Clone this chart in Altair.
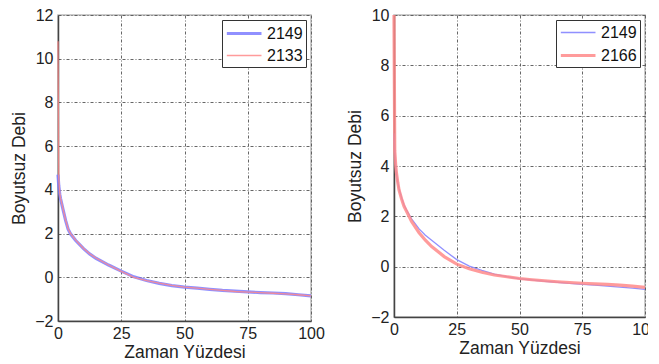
import altair as alt
import pandas as pd

x_pct = [0, 0.3, 0.7, 1, 1.5, 2, 3, 4, 5, 7, 10, 12.5, 15, 20, 25, 30, 35, 40, 45, 50,
         55, 60, 65, 70, 75, 80, 85, 90, 95, 100]

left_2149 = [4.7, 4.2, 3.8, 3.6, 3.35, 3.1, 2.6, 2.2, 1.98, 1.68, 1.32, 1.07, 0.87, 0.56, 0.28, 0.02,
             -0.15, -0.28, -0.38, -0.45, -0.5, -0.55, -0.6, -0.63, -0.67, -0.7, -0.72, -0.75, -0.8, -0.85]
left_2133 = [10.8, 4.5, 3.85, 3.62, 3.38, 3.12, 2.62, 2.22, 2.0, 1.7, 1.33, 1.08, 0.88, 0.56, 0.27, 0.0,
             -0.15, -0.27, -0.37, -0.45, -0.5, -0.55, -0.6, -0.65, -0.68, -0.7, -0.73, -0.76, -0.8, -0.85]

right_2149 = [5.3, 4.5, 4.0, 3.7, 3.35, 3.1, 2.75, 2.45, 2.25, 1.9, 1.5, 1.25, 1.05, 0.65, 0.28, 0.02,
              -0.15, -0.3, -0.4, -0.48, -0.53, -0.58, -0.62, -0.66, -0.7, -0.73, -0.77, -0.81, -0.85, -0.9]
right_2166 = [10.0, 4.6, 4.0, 3.7, 3.35, 3.05, 2.7, 2.4, 2.2, 1.8, 1.35, 1.05, 0.8, 0.4, 0.1, -0.08,
              -0.22, -0.33, -0.4, -0.47, -0.52, -0.56, -0.6, -0.63, -0.66, -0.68, -0.7, -0.73, -0.77, -0.82]

left_series = ["2149", "2133"]
right_series = ["2149", "2166"]

BLUE = "#7d7dff"
RED = "#ff8a8a"
FONT = "Liberation Sans"


def make_df(names, ys):
    rows = []
    for name, vals in zip(names, ys):
        for i, (xv, yv) in enumerate(zip(x_pct, vals)):
            rows.append({"x": xv, "y": yv, "series": name, "order": i})
    return pd.DataFrame(rows)


def panel(df, names, widths, ymax, w, h):
    xaxis = alt.Axis(values=[0, 25, 50, 75, 100], title="Zaman Yüzdesi", labelFlush=False,
                     grid=True, tickSize=0, labelPadding=4, titlePadding=2)
    yaxis = alt.Axis(values=list(range(-2, ymax + 1, 2)), title="Boyutsuz Debi",
                     grid=True, tickSize=0, labelPadding=5, titlePadding=6)
    leg = alt.Legend(title=None, orient="top-right", offset=5,
                     strokeColor="#333", padding=3,
                     symbolType="M-1,0H3", symbolSize=300,
                     labelFontSize=16, labelFont=FONT, labelOffset=21,
                     labelColor="#111", rowPadding=4,
                     fillColor="white")
    return alt.Chart(df).mark_line(opacity=0.85).encode(
        x=alt.X("x:Q", scale=alt.Scale(domain=[0, 100], nice=False), axis=xaxis),
        y=alt.Y("y:Q", scale=alt.Scale(domain=[-2, ymax], nice=False), axis=yaxis),
        color=alt.Color("series:N", scale=alt.Scale(domain=names, range=[BLUE, RED]),
                        sort=names, legend=leg),
        strokeWidth=alt.StrokeWidth("series:N", scale=alt.Scale(domain=names, range=widths),
                                    sort=names, legend=leg),
        detail="series:N",
        order="order:Q",
    ).properties(width=w, height=h)


left = panel(make_df(left_series, [left_2149, left_2133]), left_series, [3.2, 1.3], 12, 253, 306)
right = panel(make_df(right_series, [right_2149, right_2166]), right_series, [1.3, 3.2], 10, 251, 302)

chart = alt.hconcat(left, right, spacing=20).resolve_scale(
    color="independent", strokeWidth="independent"
).resolve_legend(color="independent", strokeWidth="independent").properties(
    padding={"left": 2, "top": -2, "right": -12, "bottom": 0}
).configure_view(stroke="#bbbbbb", strokeWidth=1.5).configure_axis(
    labelFont=FONT, titleFont=FONT, labelFontSize=16, titleFontSize=17.5,
    labelColor="#222", titleColor="#222", titleFontWeight="normal",
    gridColor="#555", gridDash=[3, 2, 1, 2], gridOpacity=0.9, gridWidth=1,
    domainColor="#444", domainWidth=1.5,
)

chart.save("out.html", embed_options={"renderer": "svg", "actions": False})
